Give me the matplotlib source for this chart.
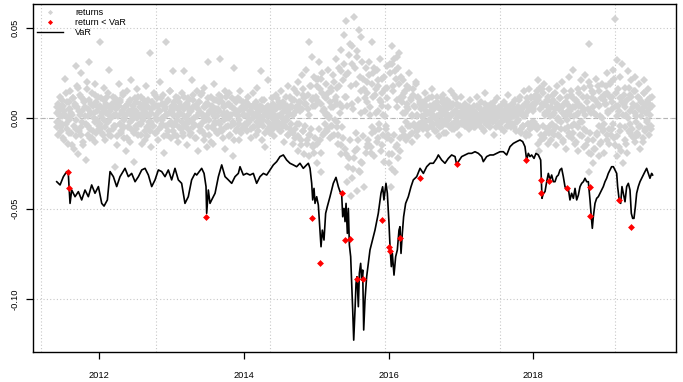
import numpy as np
import pandas as pd
import matplotlib
matplotlib.use("Agg")
import matplotlib.pyplot as plt
from matplotlib.lines import Line2D

plt.rcParams['font.family'] = ['Liberation Sans', 'DejaVu Sans']

# daily returns (two interleaved samples per year), in units of 0.1 %
ret_2011 = [3, -5, 8, -2, 12, -7, 1, 6, -11, 4, 22, -3, 9, -14, 5, -1, 15, -8, 2, 11,
            -17, 7, 29, -6, 18, -20, 4, 13, -9, 25, -2, -15, 10, 6, -23, 16, 1, -4, 31, -11,
            8, 14, -7, 3, 19, -13, 9, -1, 12, -6]
ret_2011b = [-2, 6, -9, 4, 1, -5, 10, -3, 7, -12, 2, 14, -6, 0, 9, -8, 5, 3, -15, 11,
             -4, 8, -1, -10, 6, 17, -7, 2, 12, -5, 4, -13, 9, 1, -3, 20, -9, 5, 10, -6,
             3, -11, 7, 0, -2, 13, -8, 4, 6, -4]
ret_2012 = [42, -6, 11, 3, -9, 17, 5, -12, 8, -2, 14, -7, 27, 1, -10, 6, 12, -4, -27, 9,
            2, -15, 7, 19, -3, 10, -8, 4, 13, -11, 0, 6, -18, 15, -5, 9, 3, -13, 21, -1,
            7, -24, 11, -6, 4, 16, -9, 2, 8, -3, 12, -14, 5, 10, -7, 1, 18, -10, 6, -2,
            36, 3, -16, 9, -4, 14, -8, 7, 0, 11, -12, 4, 20, -5, 8, -1, 13, -19, 6, 2,
            42, -9, 10, -3, 15, -11, 5]
ret_2012b = [-3, 7, 1, -8, 5, -1, 10, -5, 3, 12, -2, 6, -9, 4, 0, 8, -6, 2, 11, -4,
             5, -10, 1, 7, -3, 9, -7, 3, 14, -1, -5, 6, 2, -11, 8, 4, -2, 10, -6, 1,
             5, -8, 3, 9, -4, 0, 12, -3, 6, -9, 2, 7, -1, 4, -12, 8, 3, -5, 10, 1,
             -7, 5, -2, 9, -4, 6, 13, -8, 2, -1, 7, -6, 4, 11, -3, 0, 8, -10, 5, 2,
             -4, 9, -7, 3, 15, -2, 6]
ret_2013 = [7, -4, 26, 2, -9, 12, -1, 5, -13, 9, 3, -6, 14, -10, 26, 1, -3, 8, -15, 6,
            11, -2, 4, -8, 21, -5, 10, 0, -11, 7, 15, -18, 3, 9, -4, 13, -7, 2, 17, -12,
            6, -1, -16, 31, 8, -9, 4, 12, -5, -14, 19, 1, -3, 10, -8, 5, 13, -2, 33, -6,
            9, -11, 3, 7, -17, 12, 0, -4, 8, 14, -9, 2, 6, -21, 28, -3, 10, -7, 4, 11,
            -1, -12, 15, 5, -6, 9, 2]
ret_2013b = [4, -7, 2, 9, -3, 6, -10, 1, 11, -5, 3, 7, -2, -8, 5, 12, -4, 0, 8, -6,
             2, 10, -9, 4, -1, 6, 13, -3, 7, -11, 1, 5, -4, 9, -7, 3, 14, -2, 6, 0,
             -9, 8, 2, -5, 11, -1, 4, -13, 7, 3, -6, 10, -2, 5, 1, -8, 9, 4, -3, 12,
             -7, 2, 6, -1, 15, -5, 3, 8, -10, 0, 7, -4, 11, -2, 5, -12, 3, 9, -6, 1,
             4, -3, 10, -8, 6, 2, -5]
ret_2014 = [5, -3, 9, 1, -7, 12, -2, 4, -11, 6, 14, -5, 2, 8, -9, 3, 17, -4, 0, 7,
            26, -12, 5, -1, 10, -16, 3, 6, -6, 21, 2, -8, 4, 11, -3, 7, -10, 1, 13, -5,
            6, -2, 9, -7, 15, 0, -4, 8, -13, 5, 12, -1, -9, 18, 3, -6, 7, 10, -14, 2,
            16, -11, 6, -3, 20, -18, 9, 4, -15, 24, -7, 13, -20, 8, 27, -12, 5, -21, 42, -9,
            18, 34, -16, 11, -19, 7, 22]
ret_2014b = [2, -4, 6, 1, -3, 8, -1, 4, -6, 3, 0, 7, -5, 2, 9, -2, 5, -7, 1, 4,
             -3, 6, 10, -4, 2, -8, 5, 1, -2, 7, 3, -5, 4, 0, -6, 8, 2, -1, 5, -4,
             11, 1, -3, 6, -7, 3, 0, 9, -2, 4, -5, 7, 1, -9, 5, 12, -3, 6, -8, 2,
             10, -6, 4, 14, -10, 7, -3, 9, -12, 5, 16, -7, 11, -4, 8, -14, 13, 2, -9, 18,
             -6, 10, -15, 7, 23, -11, 12]
ret_2015 = [18, -25, 9, 31, -12, 22, -30, 14, 4,
            -8, 12, 3, 19, -6, 27, 1, -11, 15, 6, -4, 24, -9, 10, 33, -2, 17,
            -14, 28, 8, -20, 38, -5, 21, 46, -17,
            12, 54, -35, 25, -22, 41, -43, 8, 30, -28, 56, -18, 19, -40, 34, -12, 49, -30,
            15, 45, -25, 22, -38, 11, 28, -16,
            20, -14, 31, 6, -19, 42, -8, 25, -21, 13, 3, 27, -11, 18, -6, 33, 9, -15,
            22, 2, -24, 16, -4, 11, 29, -9]
ret_2015b = [10, -14, 22, -6, 16, -19, 8, 25, -9,
             5, -3, 11, 2, -7, 14, 0, 9, -4, 17, -10, 6, 20, -1, 12, -5, 8,
             -9, 18, 3, -15, 26, 6, -11, 30, 12,
             -20, 24, 7, -27, 35, -12, 18, -33, 40, 5, -22, 28, -8, 37, -17, 10, -29, 23,
             3, -24, 31, -10, 16, 4, -19, 14,
             9, -12, 24, 2, -16, 19, -5, 12, 28, -7, 16, -13, 4, 21, -3, 10, -18, 7,
             14, -9, 23, 1, -6, 17, -11, 6]
ret_2016 = [-25, 30, -38, 40, -20, 15, 33, -30, 22, 10, -15, 28, 36, -18, 12,
            9, 21, -7, 14, 3, -12, 18, 6, -4, 25, -9, 11, 2, -13, 16, 7, -5, 20, 1, -10,
            12, -3, 8,
            5, -2, 9, -6, 1, 14, -4, 7, 3, -9, 11, -1, 4, 16, -5, 2, 8, -7, 0, 12,
            -3, 6, -10, 5, 1, 9, -4, 13, -2, 7, 3, -8, 10, -1, 6, -5, 15, 2, -3, 8,
            -6, 4, 11, -2, 0, 7, -9, 3, 12]
ret_2016b = [-20, 25, -12, 30, -28, 18, -9, 26, -16, 34, 6, -22, 19, -11, 23,
             -6, 12, 3, -9, 15, -2, 8, -11, 5, 17, -4, 10, 1, -8, 13, -3, 6, 19, -7, 2,
             11, -5, 9,
             -3, 6, 1, -5, 8, -2, 4, 10, -6, 3, -1, 7, -4, 2, 12, -3, 5, 0, -7, 9,
             1, -2, 6, -5, 3, 11, -1, 4, -8, 2, 7, -3, 5, 0, 9, -4, 1, 6, -6, 3,
             13, -2, 4, -5, 8, 1, -3, 7, 2]
ret_2017 = [3, -2, 6, 1, -4, 8, 0, -3, 5, 2, -6, 10, -1, 4, -3, 7, 1, -5, 3, 12,
            -2, 6, -4, 0, 9, -1, 2, -7, 5, 14, -3, 1, 7, -2, 4, -5, 8, 0, 3, -9,
            6, -1, 2, 11, -4, 5, 1, -3, 7, -6, 2, 9, -1, 4, 0, -4, 6, 13, -2, 3,
            -5, 8, 1, -3, 5, 10, -7, 2, 6, -1, 4, 12, -8, 3, 7, -4, 15, 1, -10, 9,
            -3, 6, 16, -6, 11, -2, 5]
ret_2017b = [1, -3, 4, 0, 2, -2, 5, -1, 3, -4, 6, 1, -2, 3, 0, -5, 4, 2, -1, 7,
             -3, 1, 5, -2, 0, 3, -6, 2, 8, -1, 4, -3, 1, 6, -4, 2, 0, 5, -2, 3,
             9, -1, -5, 4, 1, -3, 6, 2, -2, 0, 4, -7, 3, 1, 7, -1, 2, -4, 5, 0,
             3, -3, 8, 1, -5, 4, 2, -2, 6, -1, 10, 3, -6, 5, 1, -4, 7, 2, -8, 11,
             -3, 4, -9, 6, 12, -5, 8]
ret_2018 = [6, 12, -3, 9, 15, -5, 21, -18, 17, -12, 8, 14, -11, 19, 3, -8, 10, -14, 6, 16,
            -4, -12, 9, 2, 13, -9, 5, -15, 18, -1, 7, -10, 11, -6, 20, 3, -13, 8, 1, -17,
            12, -5, 23, -8, 4, 15, -11, 6, 27, -3, -14, 10, 2, -18, 16, 7, -9, 21, -2, 12,
            -16, 5, 24, -7, 9, -12, 41, -30, 18, -20, 11, -25, 14, 3, -17, 22, -8, 8, -21, 15,
            1, -13, 19, -6, 10, -19, 13]
ret_2018b = [4, -2, 8, 13, -6, 10, -14, 12, 5, -9, 16, -4, 7, -11, 2, 9, -6, 4, 12, -8,
             1, 6, -3, 10, -7, 3, 14, -5, 8, 0, -9, 5, 11, -2, 6, -12, 3, 15, -6, 9,
             -1, 4, -10, 7, 2, 13, -4, -8, 11, 1, 6, -13, 9, 3, -5, 14, -2, 7, -10, 4,
             17, -6, 2, -15, 12, 5, -19, 20, -8, 3, 15, -12, 6, -17, 10, 2, -9, 18, -4, 7,
             -14, 11, 0, -7, 13, -3, 8]
ret_2019 = [18, -9, 25, 4, -14, 12, 20, -6, 9, 27, -11, 55, 14, -21, 32, 7, -16, 23, -4, 11,
            30, -25, 8, -12, 17, 2, -19, 26, -7, 13, -3, 21, -10, 6, 15, -13, 23, 1, -8, 12,
            -5, 19, -17, 9, 4, -11, 14, 21, -6, 8, -2, 16, -9, 5, 11, -4, 7]
ret_2019b = [8, -12, 14, 3, -6, 19, -9, 5, 12, -3, 22, -15, 7, 1, -10, 16, 4, -7, 11, -18,
             9, 2, 13, -5, 6, -14, 10, 0, 17, -8, 4, 12, -6, 8, -11, 3, 15, -2, 7, -9,
             5, 11, -4, 1, 9, -13, 6, 14, -7, 3, -1, 10, -5, 8, 2, -6, 12]

ret_years = [(ret_2011, ret_2011b, '2011-05-30', '2011-12-30'),
             (ret_2012, ret_2012b, '2012-01-02', '2012-12-31'),
             (ret_2013, ret_2013b, '2013-01-02', '2013-12-31'),
             (ret_2014, ret_2014b, '2014-01-02', '2014-12-31'),
             (ret_2015, ret_2015b, '2015-01-02', '2015-12-31'),
             (ret_2016, ret_2016b, '2016-01-04', '2016-12-30'),
             (ret_2017, ret_2017b, '2017-01-03', '2017-12-29'),
             (ret_2018, ret_2018b, '2018-01-02', '2018-12-31'),
             (ret_2019, ret_2019b, '2019-01-02', '2019-08-23')]

# VaR estimate (decimal year, percent)
var_t = [2011.411, 2011.457, 2011.503, 2011.549, 2011.572, 2011.595, 2011.618, 2011.664, 2011.710, 2011.756,
         2011.802, 2011.848, 2011.894, 2011.940, 2011.987, 2012.033, 2012.065, 2012.111, 2012.148, 2012.194,
         2012.240, 2012.286, 2012.355, 2012.401, 2012.447, 2012.494, 2012.540, 2012.586, 2012.632, 2012.678,
         2012.724, 2012.770, 2012.816, 2012.862, 2012.908, 2012.954, 2013.000, 2013.046, 2013.092, 2013.138,
         2013.184, 2013.230, 2013.276, 2013.323, 2013.346, 2013.415, 2013.448, 2013.475, 2013.484, 2013.507,
         2013.530, 2013.553, 2013.600, 2013.646, 2013.692, 2013.738, 2013.784, 2013.830, 2013.876, 2013.922,
         2013.945, 2013.991, 2014.037, 2014.083, 2014.129, 2014.175, 2014.221, 2014.268, 2014.314, 2014.360,
         2014.406, 2014.452, 2014.498, 2014.544, 2014.590, 2014.636, 2014.682, 2014.728, 2014.774, 2014.820,
         2014.866, 2014.890, 2014.913, 2014.936, 2014.950, 2014.968, 2014.982, 2015.005, 2015.028, 2015.051,
         2015.065, 2015.083, 2015.106, 2015.129, 2015.152, 2015.189, 2015.235, 2015.272, 2015.305, 2015.328,
         2015.351, 2015.365, 2015.383, 2015.397, 2015.411, 2015.429, 2015.443, 2015.457, 2015.475, 2015.489,
         2015.503, 2015.517, 2015.535, 2015.549, 2015.563, 2015.581, 2015.595, 2015.613, 2015.627, 2015.641,
         2015.655, 2015.673, 2015.696, 2015.719, 2015.742, 2015.765, 2015.811, 2015.857, 2015.894, 2015.917,
         2015.935, 2015.963, 2015.982, 2016.005, 2016.019, 2016.037, 2016.051, 2016.074, 2016.097, 2016.120,
         2016.143, 2016.157, 2016.171, 2016.189, 2016.207, 2016.235, 2016.272, 2016.309, 2016.341, 2016.364,
         2016.388, 2016.434, 2016.480, 2016.526, 2016.572, 2016.618, 2016.664, 2016.687, 2016.733, 2016.779,
         2016.825, 2016.871, 2016.918, 2016.941, 2016.964, 2017.010, 2017.056, 2017.102, 2017.148, 2017.194,
         2017.240, 2017.286, 2017.309, 2017.355, 2017.401, 2017.448, 2017.494, 2017.540, 2017.586, 2017.632,
         2017.678, 2017.724, 2017.770, 2017.816, 2017.853, 2017.885, 2017.908, 2017.931, 2017.954, 2017.977,
         2018.010, 2018.037, 2018.070, 2018.102, 2018.111, 2018.120, 2018.139, 2018.162, 2018.185, 2018.208,
         2018.231, 2018.254, 2018.277, 2018.300, 2018.323, 2018.346, 2018.369, 2018.392, 2018.415, 2018.438,
         2018.461, 2018.484, 2018.507, 2018.530, 2018.554, 2018.577, 2018.600, 2018.623, 2018.646, 2018.669,
         2018.692, 2018.715, 2018.738, 2018.761, 2018.784, 2018.802, 2018.816, 2018.830, 2018.853, 2018.876,
         2018.899, 2018.922, 2018.945, 2018.968, 2018.991, 2019.014, 2019.037, 2019.060, 2019.083, 2019.107,
         2019.130, 2019.153, 2019.166, 2019.185, 2019.208, 2019.226, 2019.245, 2019.268, 2019.291, 2019.314,
         2019.337, 2019.355, 2019.374, 2019.392, 2019.411, 2019.429, 2019.452, 2019.475, 2019.498, 2019.521,
         2019.544, 2019.567, 2019.590, 2019.613, 2019.636, 2019.650]
var_v = [-3.51, -3.69, -3.23, -2.95, -3.14, -4.71, -3.97, -4.34, -4.06, -4.52,
         -3.97, -4.34, -3.69, -4.15, -3.78, -4.71, -4.86, -4.52, -2.95, -3.23,
         -3.78, -3.23, -2.77, -3.23, -3.05, -3.51, -3.23, -2.86, -2.77, -3.14,
         -3.78, -3.41, -2.86, -2.95, -3.23, -2.86, -3.41, -2.77, -3.41, -3.60,
         -4.71, -4.34, -3.41, -3.05, -3.14, -2.77, -3.05, -3.78, -5.26, -3.97,
         -4.71, -4.52, -4.15, -3.23, -2.58, -3.23, -3.41, -3.60, -3.23, -3.05,
         -2.68, -3.14, -3.05, -3.14, -3.05, -3.60, -3.23, -3.05, -3.14, -2.86,
         -2.58, -2.40, -2.12, -2.03, -2.31, -2.49, -2.58, -2.68, -2.49, -2.77,
         -2.58, -2.49, -2.77, -3.60, -4.52, -3.88, -4.71, -4.34, -4.80, -6.19,
         -7.11, -6.19, -6.74, -5.26, -4.89, -4.34, -3.60, -3.27, -3.79, -4.06,
         -4.25, -5.45, -4.99, -5.72, -4.71, -6.37, -4.99, -7.01, -7.66, -9.14,
         -10.61, -12.28, -10.61, -9.14, -8.77, -10.43, -8.58, -8.03, -8.95, -8.40,
         -11.72, -10.06, -8.77, -8.03, -7.29, -6.92, -6.19, -5.26, -4.15, -3.79,
         -4.52, -3.60, -4.15, -5.82, -7.11, -8.21, -7.48, -8.68, -7.66, -7.29,
         -6.19, -6.00, -7.48, -6.37, -5.45, -4.71, -4.34, -3.79, -3.41, -3.32,
         -3.23, -2.77, -3.05, -2.68, -2.49, -2.49, -2.22, -2.03, -2.31, -2.49,
         -2.22, -2.03, -2.12, -2.58, -2.40, -2.12, -2.03, -1.94, -1.94, -1.85,
         -1.94, -2.12, -2.40, -2.12, -2.03, -2.03, -1.94, -1.85, -1.85, -2.03,
         -1.57, -1.39, -1.29, -1.20, -1.29, -1.57, -2.31, -1.94, -2.12, -2.03,
         -2.22, -1.94, -2.03, -2.31, -3.41, -4.43, -4.15, -4.06, -3.51, -3.05,
         -3.41, -3.14, -3.51, -3.51, -3.23, -3.14, -2.86, -2.77, -3.23, -3.78,
         -3.97, -3.88, -4.52, -4.15, -4.43, -3.88, -4.52, -4.25, -3.78, -3.60,
         -3.51, -3.32, -3.51, -3.51, -4.52, -5.45, -6.09, -5.45, -4.71, -4.43,
         -4.34, -4.15, -3.97, -3.78, -3.51, -3.32, -3.05, -2.86, -2.68, -2.68,
         -2.86, -3.05, -3.78, -4.43, -4.71, -3.78, -4.15, -4.62, -3.78, -3.60,
         -3.97, -5.26, -5.54, -5.54, -4.89, -4.15, -3.78, -3.51, -3.32, -3.14,
         -2.95, -2.77, -3.05, -3.32, -3.05, -3.14]

# returns that fell below the VaR (decimal year, percent)
breach_t = [2011.560, 2011.585, 2013.480, 2014.940, 2015.050, 2015.350, 2015.400, 2015.470,
            2015.567, 2015.650, 2015.910, 2016.005, 2016.020, 2016.160, 2016.440, 2016.950,
            2017.900, 2018.107, 2018.110, 2018.220, 2018.460, 2018.780, 2018.780, 2019.180,
            2019.350]
breach_v = [-3.00, -3.88, -5.47, -5.52, -8.03, -4.15, -6.74, -6.67,
            -8.90, -8.90, -5.65, -7.13, -7.33, -6.65, -3.31, -2.53,
            -2.29, -3.43, -4.15, -3.47, -3.88, -3.79, -5.39, -4.52,
            -6.04]

year_ticks = [2012, 2014, 2016, 2018]
y_ticks = [0.05, 0.0, -0.05, -0.10]
y_labels = ['0.05', '0.00', '-0.05', '-0.10']
grid_x = 2011.193 + 1.586 * np.arange(6)   # every 400 trading days


def year_frac(d):
    return d.year + (d.dayofyear - 1) / 365.25


ret_x, ret_y = [], []
for vals_a, vals_b, start, end in ret_years:
    for vals in (vals_a, vals_b):
        days = pd.date_range(start, end, periods=len(vals))
        ret_x.extend(year_frac(days))
        ret_y.extend(np.array(vals) / 1000)

fig = plt.figure(figsize=(6.83, 3.82), dpi=100)
ax = fig.add_axes([33.3 / 683, 30.3 / 382, 642.7 / 683, 347.4 / 382])

for gx in grid_x:
    ax.axvline(gx, color='#c8c8c8', lw=0.8, ls=(0, (1, 2)), zorder=0)
for gy in y_ticks:
    ax.axhline(gy, color='#c8c8c8', lw=0.8, ls=(0, (1, 2)), zorder=0)
ax.axhline(0, color='#b4b4b4', lw=0.8, ls=(0, (4, 3)), zorder=0.5)

ax.plot(ret_x, ret_y, 'D', color='#d3d3d3', ms=3.6, mew=0, zorder=1)
ax.plot(var_t, np.array(var_v) / 100, color='black', lw=1.2, zorder=2)
ax.plot(breach_t, np.array(breach_v) / 100, 'D', color='red', ms=3.5, mew=0, zorder=3)

ax.set_xlim(2011.087, 2019.973)
ax.set_ylim(-0.1292, 0.0631)
ax.set_xticks(year_ticks)
ax.set_xticklabels([str(y) for y in year_ticks])
ax.set_yticks(y_ticks)
ax.set_yticklabels(y_labels, rotation=90, va='center')
ax.tick_params(axis='both', length=5, width=0.9, labelsize=6.7, direction='out')
ax.tick_params(axis='x', pad=9)
ax.tick_params(axis='y', pad=5)
for s in ax.spines.values():
    s.set_linewidth(1.0)

handles = [Line2D([], [], ls='none', marker='D', color='#d3d3d3', ms=2.6, mew=0),
           Line2D([], [], ls='none', marker='D', color='red', ms=2.6, mew=0),
           Line2D([], [], color='black', lw=1.0)]
fig.legend(handles, ['returns', 'return < VaR', 'VaR'], loc='upper left',
           bbox_to_anchor=(37 / 683, 1 - 8 / 382), frameon=False, fontsize=6.5,
           handlelength=2.9, handletextpad=1.3, labelspacing=0.12,
           borderpad=0, borderaxespad=0)

fig.savefig('out.png', dpi=100)
